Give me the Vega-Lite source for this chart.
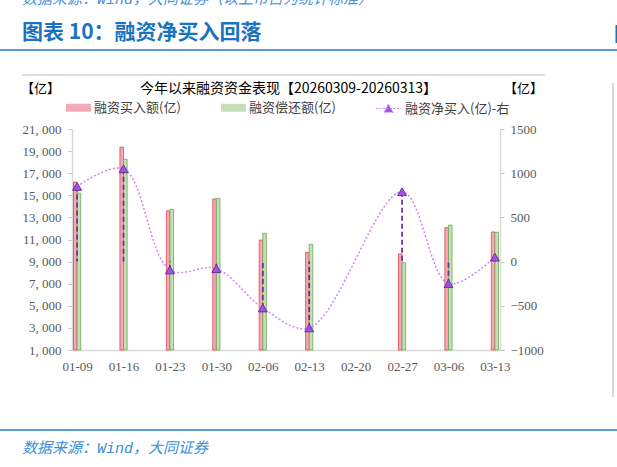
{
  "$schema": "https://vega.github.io/schema/vega-lite/v6.json",
  "width": 428,
  "height": 221,
  "autosize": "none",
  "padding": {"left": 72, "top": 129, "right": 117, "bottom": 117},
  "background": "white",
  "config": {
    "view": {"stroke": null},
    "font": "Noto Sans CJK SC"
  },
  "datasets": {
    "weekly": [
      {"date": "01-09", "buy": 16200, "repay": 15200, "net": 850},
      {"date": "01-16", "buy": 19350, "repay": 18250, "net": 1050},
      {"date": "01-23", "buy": 13600, "repay": 13730, "net": -95},
      {"date": "01-30", "buy": 14670, "repay": 14730, "net": -80},
      {"date": "02-06", "buy": 10950, "repay": 11560, "net": -525},
      {"date": "02-13", "buy": 9840, "repay": 10560, "net": -750},
      {"date": "02-27", "buy": 9690, "repay": 8900, "net": 790},
      {"date": "03-06", "buy": 12070, "repay": 12300, "net": -250},
      {"date": "03-13", "buy": 11680, "repay": 11650, "net": 50}
    ]
  },
  "layer": [
    {
      "data": {"values": [{}]},
      "mark": {"type": "rule", "stroke": "#5b9bd5", "strokeWidth": 2},
      "encoding": {"x": {"value": -72}, "x2": {"value": 545}, "y": {"value": -79}}
    },
    {
      "data": {"values": [{}]},
      "mark": {"type": "rule", "stroke": "#5b9bd5", "strokeWidth": 2},
      "encoding": {"x": {"value": -72}, "x2": {"value": 545}, "y": {"value": 301}}
    },
    {
      "data": {"values": [{}]},
      "mark": {"type": "rule", "stroke": "#bfbfbf", "strokeWidth": 1.2},
      "encoding": {"x": {"value": -50}, "x2": {"value": 473}, "y": {"value": -54}}
    },
    {
      "data": {"values": [{}]},
      "mark": {"type": "rule", "stroke": "#bfbfbf", "strokeWidth": 1.2},
      "encoding": {"x": {"value": 541}, "y": {"value": -46}, "y2": {"value": 268}}
    },
    {
      "data": {"values": [{}]},
      "mark": {"type": "rule", "stroke": "#1a73c0", "strokeWidth": 3},
      "encoding": {"x": {"value": 545}, "y": {"value": -104}, "y2": {"value": -86}}
    },
    {
      "data": {"values": [{"t": "图表 10：融资净买入回落"}]},
      "mark": {"type": "text", "align": "left", "baseline": "middle", "font": "Noto Sans CJK SC", "fontWeight": "bold", "fontSize": 21, "color": "#1a73c0"},
      "encoding": {"text": {"field": "t"}, "x": {"value": -50}, "y": {"value": -96}}
    },
    {
      "data": {"values": [{"t": "数据来源：Wind，大同证券（以上市占为统计标准）"}]},
      "mark": {"type": "text", "align": "left", "baseline": "middle", "font": "Liberation Mono, Noto Sans CJK SC", "fontStyle": "italic", "fontSize": 15, "color": "#4a90d9"},
      "encoding": {"text": {"field": "t"}, "x": {"value": -50}, "y": {"value": -130}}
    },
    {
      "data": {"values": [{"t": "数据来源：Wind，大同证券"}]},
      "mark": {"type": "text", "align": "left", "baseline": "middle", "font": "Liberation Mono, Noto Sans CJK SC", "fontStyle": "italic", "fontSize": 15, "color": "#3a8fd8"},
      "encoding": {"text": {"field": "t"}, "x": {"value": -50}, "y": {"value": 319}}
    },
    {
      "data": {"name": "weekly"},
      "encoding": {
        "x": {
          "field": "date",
          "type": "ordinal",
          "scale": {
            "type": "point",
            "domain": ["01-09", "01-16", "01-23", "01-30", "02-06", "02-13", "02-20", "02-27", "03-06", "03-13"],
            "padding": 0.11
          },
          "axis": {
            "title": "今年以来融资资金表现【20260309-20260313】",
            "titleX": 216,
            "titleY": -262,
            "titleAlign": "center",
            "titleBaseline": "middle",
            "titleFont": "Noto Sans CJK SC",
            "titleFontSize": 14,
            "titleFontWeight": "normal",
            "titleColor": "#000000",
            "labelAngle": 0,
            "labelFont": "Liberation Serif",
            "labelFontSize": 13,
            "labelColor": "#595959",
            "labelPadding": 10,
            "ticks": false,
            "domainColor": "#d9d9d9",
            "domainWidth": 1.5
          }
        }
      },
      "layer": [
        {
          "transform": [{"fold": ["buy", "repay"], "as": ["series", "amount"]}],
          "encoding": {
            "y": {
              "field": "amount",
              "type": "quantitative",
              "scale": {"domain": [1000, 21000], "zero": false, "nice": false},
              "axis": {
                "values": [1000, 3000, 5000, 7000, 9000, 11000, 13000, 15000, 17000, 19000, 21000],
                "labelExpr": "replace(format(datum.value, ','), ',', ', ')",
                "title": "【亿】",
                "titleAngle": 0,
                "titleX": -32,
                "titleY": -41,
                "titleAlign": "center",
                "titleBaseline": "middle",
                "titleFont": "Noto Sans CJK SC",
                "titleFontSize": 13,
                "titleFontWeight": "normal",
                "titleColor": "#000000",
                "grid": false,
                "tickColor": "#bfbfbf",
                "tickSize": 4,
                "domainColor": "#d9d9d9",
                "domainWidth": 1.5,
                "labelFont": "Liberation Serif",
                "labelFontSize": 13,
                "labelColor": "#595959",
                "labelPadding": 7
              }
            },
            "y2": {"datum": 1000},
            "color": {
              "field": "series",
              "type": "nominal",
              "scale": {"domain": ["buy", "repay"], "range": ["#f4aab6", "#c3e0b8"]},
              "legend": {
                "orient": "none",
                "legendX": -6,
                "legendY": -34,
                "direction": "horizontal",
                "title": null,
                "labelExpr": "datum.label == 'buy' ? '融资买入额(亿)' : '融资偿还额(亿)'",
                "symbolType": "M-1,-0.32H1V0.32H-1Z",
                "symbolSize": 625,
                "symbolStrokeWidth": 0,
                "symbolOpacity": 1,
                "labelFont": "Noto Sans CJK SC",
                "labelFontSize": 13,
                "labelColor": "#404040",
                "labelOffset": 3,
                "columnPadding": 40
              }
            }
          },
          "layer": [
            {
              "transform": [{"filter": "datum.series == 'buy'"}],
              "mark": {"type": "bar", "width": 3.6, "xOffset": -1.8, "stroke": "#e8414f", "strokeWidth": 0.8}
            },
            {
              "transform": [{"filter": "datum.series == 'repay'"}],
              "mark": {"type": "bar", "width": 3.6, "xOffset": 1.8, "stroke": "#6aaa55", "strokeWidth": 0.8}
            }
          ]
        },
        {
          "encoding": {
            "y": {
              "field": "net",
              "type": "quantitative",
              "scale": {"domain": [-1000, 1500], "zero": false, "nice": false},
              "axis": {
                "orient": "right",
                "values": [-1000, -500, 0, 500, 1000, 1500],
                "format": "d",
                "title": "【亿】",
                "titleAngle": 0,
                "titleX": 23,
                "titleY": -41,
                "titleAlign": "center",
                "titleBaseline": "middle",
                "titleFont": "Noto Sans CJK SC",
                "titleFontSize": 13,
                "titleFontWeight": "normal",
                "titleColor": "#000000",
                "grid": false,
                "tickColor": "#bfbfbf",
                "tickSize": 4,
                "domainColor": "#d9d9d9",
                "domainWidth": 1.5,
                "labelFont": "Liberation Serif",
                "labelFontSize": 13,
                "labelColor": "#595959",
                "labelPadding": 6
              }
            }
          },
          "layer": [
            {
              "mark": {"type": "line", "interpolate": "catmull-rom", "strokeDash": [2, 2], "strokeWidth": 1.5},
              "encoding": {
                "stroke": {
                  "datum": "融资净买入(亿)-右",
                  "scale": {"range": ["#cc88ee"]},
                  "legend": {
                    "orient": "none",
                    "legendX": 303,
                    "legendY": -34,
                    "title": null,
                    "symbolType": "M-1,0H1M-0.35,0.3L0,-0.35L0.35,0.3Z",
                    "symbolSize": 625,
                    "symbolFillColor": "#a052e0",
                    "symbolStrokeWidth": 1.2,
                    "symbolDash": [2, 1.5],
                    "labelFont": "Noto Sans CJK SC",
                    "labelFontSize": 13,
                    "labelColor": "#404040",
                    "labelOffset": 3
                  }
                }
              }
            },
            {
              "mark": {"type": "rule", "stroke": "#7030a0", "strokeDash": [5, 3], "strokeWidth": 1.8},
              "encoding": {"y2": {"datum": 0}}
            },
            {
              "mark": {"type": "point", "shape": "triangle-up", "filled": true, "fill": "#a052e0", "stroke": "#7030a0", "strokeWidth": 1, "size": 80, "opacity": 1},
              "encoding": {}
            }
          ]
        }
      ],
      "resolve": {"scale": {"y": "independent"}}
    }
  ]
}
